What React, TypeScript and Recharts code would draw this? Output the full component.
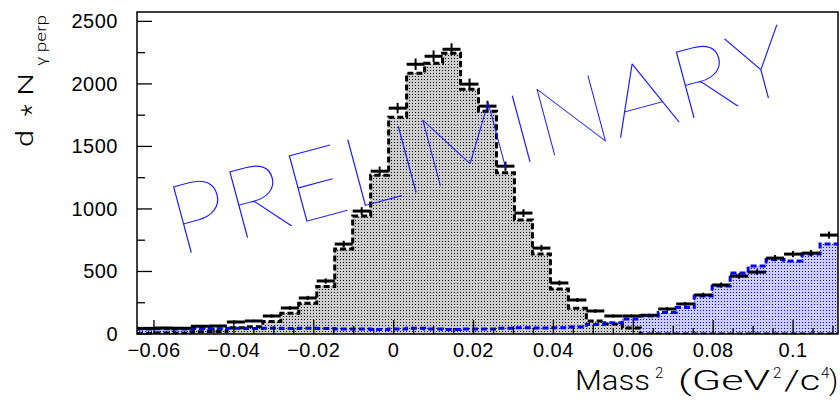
import React from "react";
import {
  ComposedChart,
  Area,
  Line,
  Scatter,
  ErrorBar,
  XAxis,
  YAxis,
  ReferenceArea,
} from "recharts";

// histogram binning (Mass^2, GeV^2/c^4)
const X_MIN = -0.06425;
const BIN = 0.0045;
const N_BINS = 39;
const X_MAX = X_MIN + BIN * N_BINS;
const Y_MAX = 2575;

// signal histogram (grey, dashed black outline)
const signal = [
  5, 8, 6, 18, 20, 50, 58, 100, 165, 245, 380, 680, 943, 1270, 1734, 2085,
  2165, 2245, 1958, 1782, 1290, 911, 639, 360, 205, 104, 80, 48, 0, 0, 0, 0,
  0, 0, 0, 0, 0, 0, 0,
];

// background histogram (blue)
const background = [
  40, 42, 40, 44, 42, 46, 44, 45, 43, 45, 44, 40, 40, 35, 40, 45, 40, 35, 40,
  40, 45, 50, 48, 50, 55, 75, 90, 120, 144, 172, 212, 304, 384, 488, 543, 595,
  583, 639, 719,
];

// data points with errors
const counts = [
  45, 48, 46, 62, 64, 96, 104, 144, 208, 288, 424, 719, 983, 1302, 1806, 2157,
  2221, 2277, 1998, 1822, 1342, 967, 687, 408, 272, 184, 144, 144, 150, 200,
  240, 312, 392, 463, 495, 607, 639, 647, 791,
];
const countErr = [
  7, 7, 7, 8, 8, 10, 10, 12, 14, 17, 21, 27, 31, 36, 42, 46, 47, 48, 45, 43,
  37, 31, 26, 20, 16, 14, 12, 12, 12, 14, 15, 18, 20, 22, 22, 25, 25, 25, 28,
];

// axis ticks
const xMajor = [-0.06, -0.04, -0.02, 0, 0.02, 0.04, 0.06, 0.08, 0.1];
const xTickLabels = ["\u22120.06", "\u22120.04", "\u22120.02", "0", "0.02", "0.04", "0.06", "0.08", "0.1"];
const xTicks = Array.from({ length: 35 }, (_, i) => Number((-0.06 + i * 0.005).toFixed(3)));
const yTicks = [0, 250, 500, 750, 1000, 1250, 1500, 1750, 2000, 2250, 2500];

const histRows = [
  ...signal.map((s, i) => ({ x: X_MIN + BIN * i, signal: s, bkg: background[i] })),
  { x: X_MAX, signal: signal[N_BINS - 1], bkg: background[N_BINS - 1] },
];
const pointRows = counts.map((c, i) => ({
  x: X_MIN + BIN * (i + 0.5),
  y: c,
  ex: BIN / 2,
  ey: countErr[i],
}));

const FONT = "'Liberation Sans', Arial, Helvetica, sans-serif";
const TITLE_FONT = "Roboto, 'Liberation Sans', Arial, sans-serif";

const XTick = (props: any) => {
  const { x, y, payload } = props;
  const v = payload.value;
  const idx = xMajor.findIndex((t) => Math.abs(t - v) < 1e-9);
  const mid = Math.abs(v * 100 - Math.round(v * 100)) < 1e-6;
  const len = idx >= 0 ? 14 : mid ? 8 : 6;
  return (
    <g>
      <line x1={x} x2={x} y1={y} y2={y - len} stroke="#000" strokeWidth={1.3} />
      {idx >= 0 && (
        <text x={x} y={y + 23} textAnchor="middle" fontFamily={FONT} fontSize={20} letterSpacing={0.5} fill="#000">
          {xTickLabels[idx]}
        </text>
      )}
    </g>
  );
};

const YTick = (props: any) => {
  const { x, y, payload } = props;
  const v = payload.value;
  const major = v % 500 === 0;
  return (
    <g>
      <line x1={x} x2={x + (major ? 15 : 8)} y1={y} y2={y} stroke="#000" strokeWidth={1.3} />
      {major && (
        <text x={x - 19} y={y + 7} textAnchor="end" fontFamily={FONT} fontSize={20} letterSpacing={0.5} fill="#000">
          {v}
        </text>
      )}
    </g>
  );
};

export default function App() {
  return (
    <div style={{ position: "relative", width: 840, height: 402, background: "#fff" }}>
      <style>{"body{margin:0;}"}</style>
      <ComposedChart
        width={840}
        height={402}
        data={histRows}
        margin={{ top: 12, right: 2, bottom: 0, left: 0 }}
      >
        <defs>
          <pattern id="greyDots" width="3" height="3" patternUnits="userSpaceOnUse">
            <rect x="0" y="0" width="3" height="3" fill="#cdcdcd" />
            <rect x="1" y="1" width="1" height="1" fill="#000" />
          </pattern>
          <pattern id="blueDots" width="3" height="3" patternUnits="userSpaceOnUse">
            <rect x="0" y="0" width="3" height="3" fill="#ccccff" />
            <rect x="1" y="1" width="1" height="1" fill="#0000ff" />
          </pattern>
        </defs>
        <XAxis
          type="number"
          dataKey="x"
          domain={[X_MIN, X_MAX]}
          allowDataOverflow
          ticks={xTicks}
          interval={0}
          tickSize={0}
          tickMargin={0}
          axisLine={false}
          height={68}
          tick={(p: any) => <XTick {...p} />}
        />
        <YAxis
          type="number"
          domain={[0, Y_MAX]}
          allowDataOverflow
          ticks={yTicks}
          interval={0}
          tickSize={0}
          tickMargin={0}
          axisLine={false}
          width={137}
          tick={(p: any) => <YTick {...p} />}
        />
        <Area
          type="stepAfter"
          dataKey="bkg"
          fill="url(#blueDots)"
          fillOpacity={1}
          stroke="none"
          dot={false}
          activeDot={false}
          isAnimationActive={false}
        />
        <Area
          type="stepAfter"
          dataKey="signal"
          fill="url(#greyDots)"
          fillOpacity={1}
          stroke="#000"
          strokeWidth={3}
          strokeDasharray="6 3"
          dot={false}
          activeDot={false}
          isAnimationActive={false}
        />
        <Line
          type="stepAfter"
          dataKey="bkg"
          stroke="#0000ff"
          strokeWidth={3}
          strokeDasharray="6 3"
          dot={false}
          activeDot={false}
          isAnimationActive={false}
        />
        <Scatter data={pointRows} dataKey="y" shape={() => <g />} isAnimationActive={false}>
          <ErrorBar dataKey="ex" direction="x" width={0} stroke="#000" strokeWidth={3} />
          <ErrorBar dataKey="ey" direction="y" width={0} stroke="#000" strokeWidth={2} />
        </Scatter>
        <ReferenceArea x1={X_MIN} x2={X_MAX} y1={0} y2={Y_MAX} fill="none" stroke="#000" strokeWidth={1.5} />
      </ComposedChart>
      <svg
        width={840}
        height={402}
        style={{ position: "absolute", left: 0, top: 0, pointerEvents: "none" }}
      >
        <text
          transform="translate(179,256) rotate(-15)"
          fontFamily="Lato, Roboto, Inter, sans-serif"
          fontWeight={200}
          fontSize={98}
          fill="#1a1aff"
          textLength={640}
          lengthAdjust="spacingAndGlyphs"
        >
          PRELIMINARY
        </text>
        {/* y title: d * N_gamma perp */}
        <g fontFamily={TITLE_FONT} fontWeight={300} fill="#000">
          <text transform="translate(33,147) rotate(-90)" fontSize={23} textLength={17} lengthAdjust="spacingAndGlyphs">d</text>
          <text transform="translate(41,116) rotate(-90)" fontSize={27}>*</text>
          <text transform="translate(33,96) rotate(-90)" fontSize={21} textLength={23} lengthAdjust="spacingAndGlyphs">N</text>
          <text transform="translate(46,66) rotate(-90)" fontSize={15} textLength={51} lengthAdjust="spacingAndGlyphs">γ perp</text>
        </g>
        {/* x title: Mass^2 (GeV^2/c^4) */}
        <g fontFamily={TITLE_FONT} fontWeight={300} fill="#000">
          <text x={575} y={390} fontSize={28} textLength={75} lengthAdjust="spacingAndGlyphs">Mass</text>
          <text x={655} y={378} fontSize={15}>2</text>
          <text x={678} y={390} fontSize={28} textLength={92} lengthAdjust="spacingAndGlyphs">(GeV</text>
          <text x={773} y={378} fontSize={15}>2</text>
          <text x={784} y={390} fontSize={28} textLength={36} lengthAdjust="spacingAndGlyphs">/c</text>
          <text x={821} y={378} fontSize={15}>4</text>
          <text x={829} y={390} fontSize={28}>)</text>
        </g>
      </svg>
    </div>
  );
}
